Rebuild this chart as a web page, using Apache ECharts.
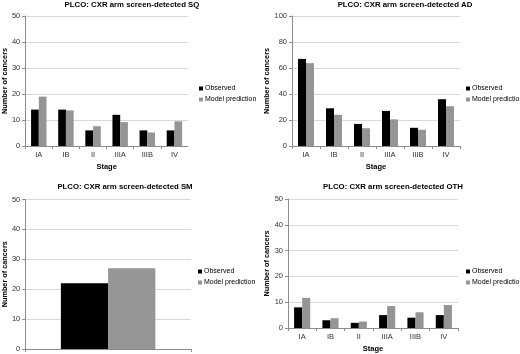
<!DOCTYPE html>
<html>
<head>
<meta charset="utf-8">
<script src="https://cdn.jsdelivr.net/npm/echarts@6/dist/echarts.min.js"></script>
<style>
  html, body { margin: 0; padding: 0; background: #fff; }
  #chart { width: 520px; height: 354px; }
</style>
</head>
<body>
<div id="chart"></div>
<script>
const stages = ['IA', 'IB', 'II', 'IIIA', 'IIIB', 'IV']
const smCategory = ['']
const seriesNames = ['Observed', 'Model prediction']

const sqObserved = [14, 14, 6, 12, 6, 6]
const sqModel = [19, 13.7, 7.6, 9.2, 5.2, 9.5]
const adObserved = [67, 29, 17, 27, 14, 36]
const adModel = [63.7, 24, 13.7, 20.5, 12.5, 30.6]
const smObserved = [22]
const smModel = [27]
const othObserved = [8, 3, 2, 5, 4, 5]
const othModel = [11.7, 3.8, 2.5, 8.5, 6.1, 8.9]

const titles = [
  'PLCO: CXR arm screen-detected SQ',
  'PLCO: CXR arm screen-detected AD',
  'PLCO: CXR arm screen-detected SM',
  'PLCO: CXR arm screen-detected OTH'
]

const FONT = "'Liberation Sans', Arial, sans-serif"
const BLACK = '#000000'
const GREY = '#959595'

const panels = [
  { grid: { left: 23, top: 16, width: 165, height: 130 }, cats: stages, max: 50, step: 10, obs: sqObserved, mod: sqModel, title: { x: 132, y: 0.5 }, legend: { x: 199, y: 85 }, xName: 'Stage' },
  { grid: { left: 292, top: 16, width: 168, height: 130 }, cats: stages, max: 100, step: 20, obs: adObserved, mod: adModel, title: { x: 405, y: 0.5 }, legend: { x: 466, y: 85 }, xName: 'Stage' },
  { grid: { left: 23, top: 199.5, width: 168, height: 153 }, cats: smCategory, max: 50, step: 10, obs: smObserved, mod: smModel, title: { x: 125, y: 182.5 }, legend: { x: 198, y: 268 }, xName: '' },
  { grid: { left: 288, top: 199, width: 170, height: 131 }, cats: stages, max: 50, step: 10, obs: othObserved, mod: othModel, title: { x: 393, y: 182.5 }, legend: { x: 466, y: 268 }, xName: 'Stage' }
]

const chart = echarts.init(document.getElementById('chart'), null, { renderer: 'canvas' })

const option = {
  backgroundColor: '#fff',
  animation: false,
  title: panels.map((p, i) => ({
    text: titles[i],
    left: p.title.x,
    top: p.title.y,
    padding: 0,
    textAlign: 'center',
    textStyle: { fontFamily: FONT, fontSize: 7.8, fontWeight: 'bold', color: '#000' }
  })),
  legend: panels.map(p => ({
    data: seriesNames,
    orient: 'vertical',
    left: p.legend.x,
    top: p.legend.y,
    padding: 0,
    itemWidth: 4,
    itemHeight: 4,
    itemGap: 4,
    icon: 'rect',
    selectedMode: false,
    textStyle: { fontFamily: FONT, fontSize: 7, color: '#000', padding: [0, 0, 0, -3] }
  })),
  grid: panels.map(p => Object.assign({ containLabel: false }, p.grid)),
  xAxis: panels.map((p, i) => ({
    type: 'category',
    gridIndex: i,
    data: p.cats,
    name: p.xName,
    nameLocation: 'middle',
    nameGap: 17,
    nameTextStyle: { fontFamily: FONT, fontSize: 7.5, fontWeight: 'bold', color: '#000' },
    axisLine: { lineStyle: { color: '#8c8c8c', width: 1 } },
    axisTick: { show: true, alignWithLabel: false, length: 3, lineStyle: { color: '#8c8c8c' } },
    axisLabel: { fontFamily: FONT, fontSize: 7.5, color: '#333', margin: 5 }
  })),
  yAxis: panels.map((p, i) => ({
    type: 'value',
    gridIndex: i,
    min: 0,
    max: p.max,
    interval: p.step,
    name: 'Number of cancers',
    nameLocation: 'middle',
    nameGap: 16,
    nameTextStyle: { fontFamily: FONT, fontSize: 7.3, fontWeight: 'bold', color: '#000' },
    axisLine: { show: true, lineStyle: { color: '#8c8c8c', width: 1 } },
    axisTick: { show: true, length: 3, lineStyle: { color: '#8c8c8c' } },
    axisLabel: { fontFamily: FONT, fontSize: 7.5, color: '#333', margin: 5 },
    splitLine: { show: true, lineStyle: { color: '#d9d9d9', width: 1 } }
  })),
  series: []
}

panels.forEach((p, i) => {
  option.series.push({
    name: seriesNames[0],
    type: 'bar',
    xAxisIndex: i,
    yAxisIndex: i,
    data: p.obs,
    itemStyle: { color: BLACK },
    barGap: '0%',
    barCategoryGap: '43%'
  })
  option.series.push({
    name: seriesNames[1],
    type: 'bar',
    xAxisIndex: i,
    yAxisIndex: i,
    data: p.mod,
    itemStyle: { color: GREY },
    barGap: '0%',
    barCategoryGap: '43%'
  })
})

chart.setOption(option)
</script>
</body>
</html>
